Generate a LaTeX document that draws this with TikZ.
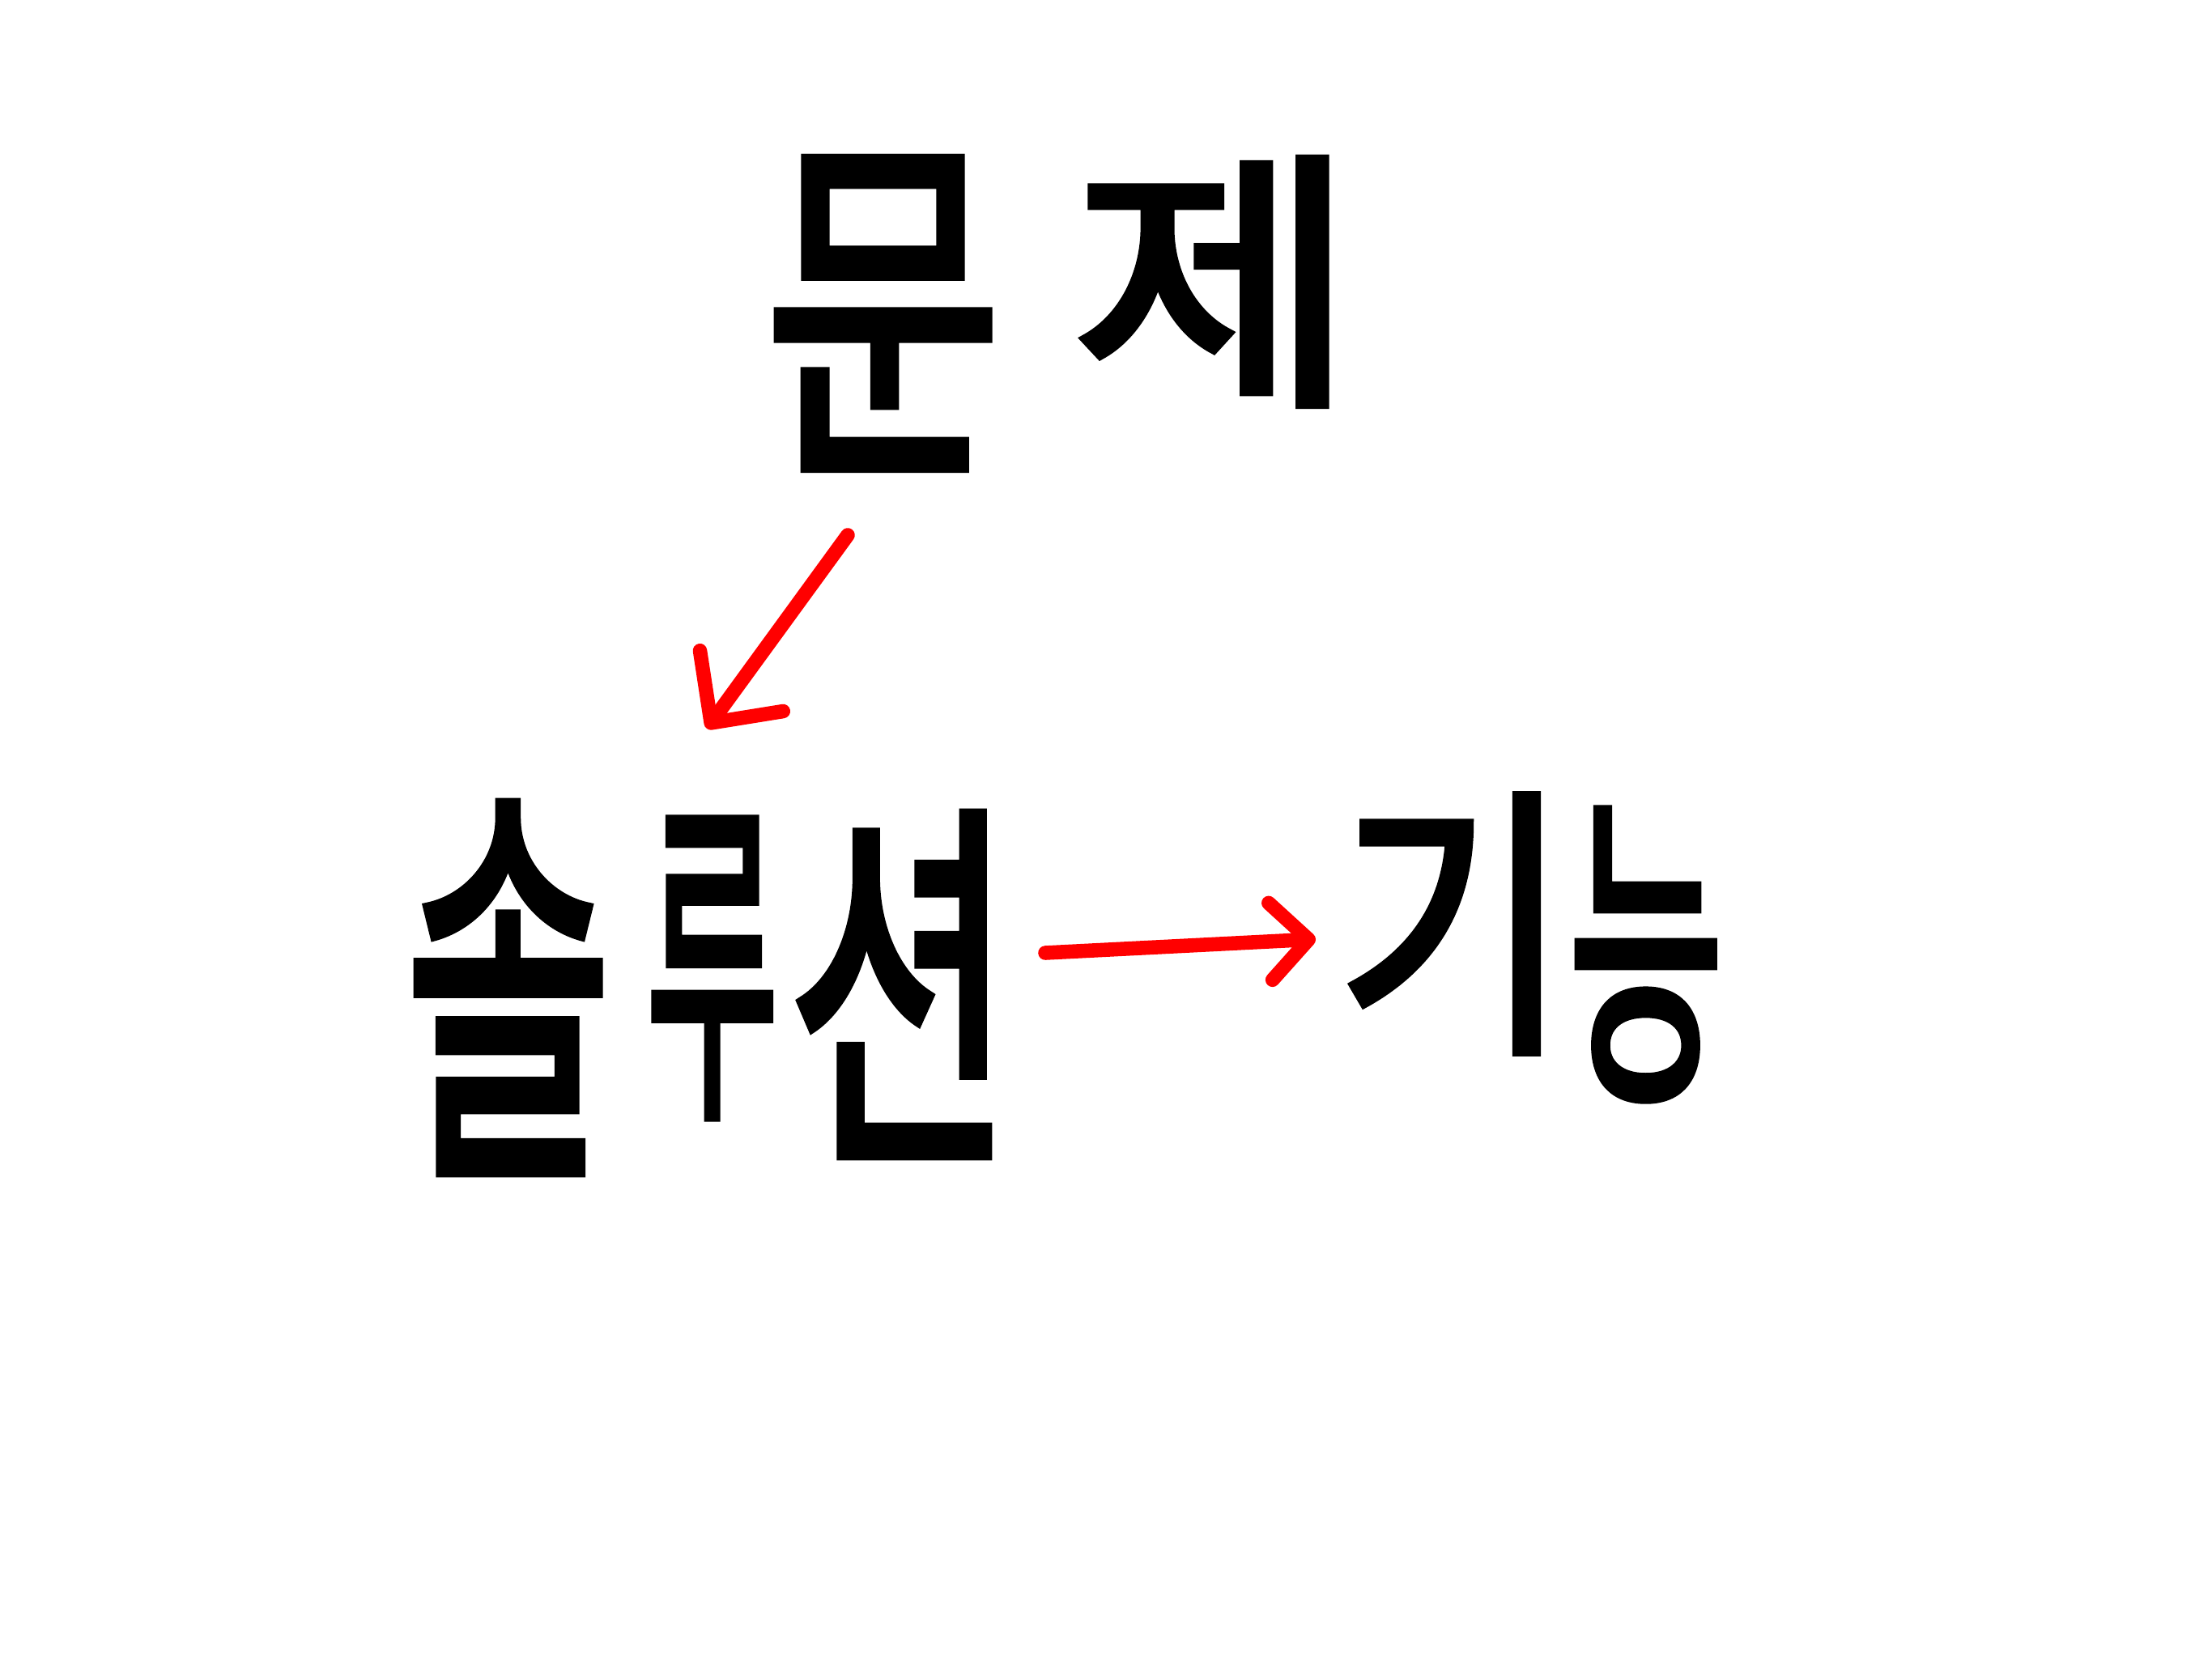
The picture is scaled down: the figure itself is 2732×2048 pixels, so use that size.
\documentclass[tikz,border=0pt]{standalone}
\usepackage{fontspec}
\usepackage{graphicx}
\newfontfamily\kfont{Noto Sans CJK KR}[FakeBold=3]
\usetikzlibrary{arrows.meta}
\newcommand{\hglyph}[3]{\resizebox*{#1}{#2}{\kfont #3}}
\tikzset{
  glyph/.style={inner sep=0pt, outer sep=0pt, anchor=center, text=black},
  redarrow/.style={draw=red, line width=5pt, line cap=round, line join=round},
  headA/.style={-{Straight Barb[length=6.4mm,width=12.7mm,round]}},
  headB/.style={-{Straight Barb[length=4.7mm,width=9.5mm,round]}}
}
\begin{document}
\begin{tikzpicture}[x=0.01cm,y=-0.01cm]
\useasboundingbox[fill=white] (0,0) rectangle (2732,2048);
% 문제
\node[glyph] (mun) at (1091,387) {\hglyph{2.92cm}{3.80cm}{문}};
\node[glyph] (je) at (1500,348) {\hglyph{3.50cm}{3.04cm}{제}};
% 솔루션
\node[glyph] (sol) at (628,1220) {\hglyph{2.54cm}{4.53cm}{솔}};
\node[glyph] (lu) at (880,1196) {\hglyph{1.63cm}{3.66cm}{루}};
\node[glyph] (syeon) at (1113,1216) {\hglyph{2.79cm}{4.20cm}{션}};
% 기능
\node[glyph] (gi) at (1795,1141) {\hglyph{2.86cm}{3.17cm}{기}};
\node[glyph] (neung) at (2033,1179) {\hglyph{1.91cm}{3.57cm}{능}};
% arrows
\coordinate (a1s) at (1047,661);
\coordinate (a1e) at (873,900);
\coordinate (a2s) at (1291,1177);
\coordinate (a2e) at (1625,1160);
\draw[redarrow,headA] (a1s) -- (a1e);
\draw[redarrow,headB] (a2s) -- (a2e);
\end{tikzpicture}
\end{document}
